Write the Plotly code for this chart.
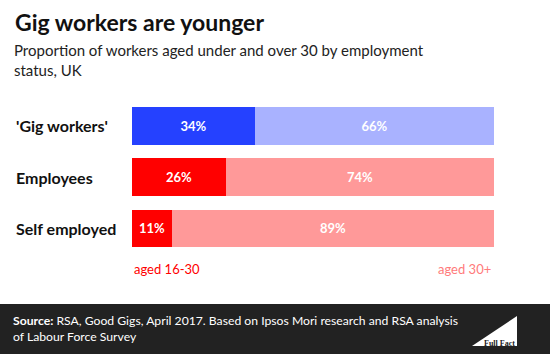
import plotly.graph_objects as go

categories = ["'Gig workers'", "Employees", "Self employed"]
under30 = [34, 26, 11]
over30 = [66, 74, 89]
under_colors = ["#2541ff", "#ff0000", "#ff0000"]
over_colors = ["#a9b2ff", "#ff9999", "#ff9999"]

W, H = 550, 354
def py(p):
    return 1 - p / H
def px(p):
    return p / W

fig = go.Figure()
fig.add_trace(go.Bar(
    y=categories, x=under30, orientation="h",
    marker=dict(color=under_colors, line=dict(width=0)),
    text=[f"<b>{v}%</b>" for v in under30], textposition="inside",
    insidetextanchor="middle",
    textfont=dict(color="white", size=13, family="Lato"),
    hoverinfo="skip",
))
fig.add_trace(go.Bar(
    y=categories, x=over30, orientation="h",
    marker=dict(color=over_colors, line=dict(width=0)),
    text=[f"<b>{v}%</b>" for v in over30], textposition="inside",
    insidetextanchor="middle",
    textfont=dict(color="white", size=13, family="Lato"),
    hoverinfo="skip",
))

annotations = [
    dict(text="<b>Gig workers are younger</b>", x=px(13), y=py(22), xref="paper", yref="paper",
         xanchor="left", yanchor="middle", showarrow=False,
         font=dict(size=23, color="#111", family="Lato")),
    dict(text="Proportion of workers aged under and over 30 by employment<br>status, UK",
         x=px(12), y=py(60), xref="paper", yref="paper", xanchor="left", yanchor="middle",
         showarrow=False, align="left",
         font=dict(size=15, color="#222", family="Lato")),
    dict(text="aged 16-30", x=px(132), y=py(269), xref="paper", yref="paper",
         xanchor="left", yanchor="middle", showarrow=False,
         font=dict(size=13, color="#ff0000", family="Lato")),
    dict(text="aged 30+", x=px(493), y=py(269), xref="paper", yref="paper",
         xanchor="right", yanchor="middle", showarrow=False,
         font=dict(size=13, color="#ff7b7b", family="Lato")),
    dict(text="<b>Source:</b> RSA, Good Gigs, April 2017. Based on Ipsos Mori research and RSA analysis<br>of Labour Force Survey",
         x=px(11), y=py(328), xref="paper", yref="paper", xanchor="left", yanchor="middle",
         showarrow=False, align="left",
         font=dict(size=12.2, color="white", family="Lato")),
    dict(text="<b>Full Fact</b>", x=px(517), y=py(343), xref="paper", yref="paper",
         xanchor="right", yanchor="middle", showarrow=False,
         font=dict(size=8, color="#222", family="Liberation Sans Narrow")),
]
centers = [126, 177.5, 228.5]
for c, yc in zip(categories, centers):
    annotations.append(dict(text=f"<b>{c}</b>", x=px(14), y=py(yc), xref="paper", yref="paper",
                            xanchor="left", yanchor="middle", showarrow=False,
                            font=dict(size=16, color="#111", family="Lato")))

shapes = [
    dict(type="rect", xref="paper", yref="paper", x0=0, x1=1, y0=0, y1=py(304),
         fillcolor="#222222", line=dict(width=0), layer="below"),
    dict(type="path", xref="paper", yref="paper",
         path=f"M {px(472)} {py(346)} L {px(517)} {py(316)} L {px(517)} {py(346)} Z",
         fillcolor="white", line=dict(width=0)),
]

fig.update_layout(
    width=W, height=H, barmode="stack", bargap=0.265,
    margin=dict(l=0, r=0, t=0, b=0),
    paper_bgcolor="white", plot_bgcolor="white", showlegend=False,
    xaxis=dict(domain=[px(132), px(494)], range=[0, 100], visible=False, fixedrange=True),
    yaxis=dict(domain=[py(254), py(100.5)], autorange="reversed", visible=False, fixedrange=True),
    annotations=annotations, shapes=shapes,
    uniformtext=dict(mode="show", minsize=8),
)
fig.write_html("out.html")
